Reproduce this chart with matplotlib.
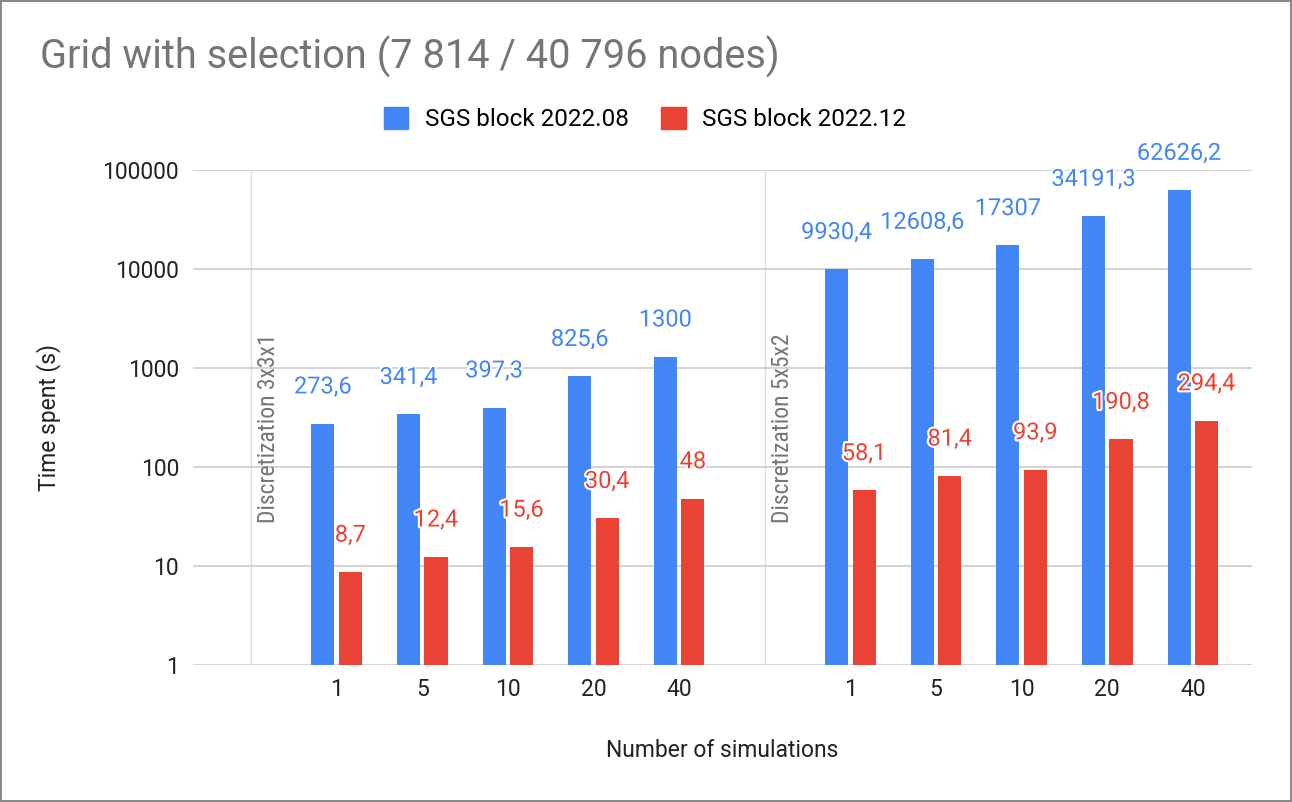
import matplotlib

matplotlib.use("Agg")
import matplotlib.pyplot as plt
import matplotlib.patheffects as pe
from matplotlib import font_manager
from matplotlib.patches import Patch
from matplotlib.transforms import blended_transform_factory

plt.rcParams["font.family"] = ["Roboto", "DejaVu Sans"]

# data
groups = ["Discretization 3x3x1", "Discretization 5x5x2"]
sims = ["1", "5", "10", "20", "40"]
series_names = ["SGS block 2022.08", "SGS block 2022.12"]
aug_3x3x1 = [273.6, 341.4, 397.3, 825.6, 1300]
dec_3x3x1 = [8.7, 12.4, 15.6, 30.4, 48]
aug_5x5x2 = [9930.4, 12608.6, 17307, 34191.3, 62626.2]
dec_5x5x2 = [58.1, 81.4, 93.9, 190.8, 294.4]

BLUE = "#4285F4"
RED = "#EA4335"
GRID = "#cccccc"
GRAY = "#757575"
INK = "#222222"

# group headers look condensed in the original; use a narrow face if there is one
names = {f.name for f in font_manager.fontManager.ttflist}
head_font, head_size = ["Roboto"], 14
for narrow in ["Roboto Condensed", "Liberation Sans Narrow"]:
    if narrow in names:
        head_font, head_size = [narrow], 17
        break

fig = plt.figure(figsize=(12.92, 8.02), dpi=100)
fig.patch.set_edgecolor("#8a8a8a")
fig.patch.set_linewidth(1.5)
ax = fig.add_axes([0.1494, 0.1708, 0.8196, 0.6172])

# one slot per group header, then five slots for the runs
ticks, labels = [], []
pos = 0
bw, gap = 0.27, 0.05
halo = [pe.withStroke(linewidth=3, foreground="white")]
tr = blended_transform_factory(ax.transData, ax.transAxes)
for gname, aug, dec in [(groups[0], aug_3x3x1, dec_3x3x1), (groups[1], aug_5x5x2, dec_5x5x2)]:
    ax.axvline(pos, color="#dddddd", lw=1, zorder=0)
    ax.text(pos + 0.21, 0.287, gname, rotation=90, transform=tr, ha="center", va="bottom",
            color=GRAY, fontsize=head_size, family=head_font)
    xs = [pos + 1 + i for i in range(len(sims))]
    xb = [x - (bw + gap) / 2 for x in xs]
    xr = [x + (bw + gap) / 2 for x in xs]
    ax.bar(xb, aug, width=bw, color=BLUE, zorder=2)
    ax.bar(xr, dec, width=bw, color=RED, zorder=2)
    for xx, vals, col in [(xb, aug, BLUE), (xr, dec, RED)]:
        for x, v in zip(xx, vals):
            ax.annotate(f"{v:g}".replace(".", ","), (x, v), xytext=(0, 26.5),
                        textcoords="offset points", ha="center", va="center", color=col,
                        fontsize=17, path_effects=halo, annotation_clip=False)
    ticks += xs
    labels += sims
    pos += len(sims) + 1

ax.set_yscale("log")
ax.set_ylim(1, 100000)
ax.set_xlim(-0.677, 11.69)
ax.set_yticks([1, 10, 100, 1000, 10000, 100000])
ax.set_yticklabels(["1", "10", "100", "1000", "10000", "100000"])
ax.minorticks_off()
ax.set_xticks(ticks)
ax.set_xticklabels(labels)
ax.tick_params(axis="both", length=0, labelsize=16.5, colors=INK)
ax.tick_params(axis="y", pad=10)
ax.tick_params(axis="x", pad=9.5)
ax.grid(axis="y", color=GRID, lw=1.2, zorder=0)
ax.set_axisbelow(True)
for s in ax.spines.values():
    s.set_visible(False)

ax.set_ylabel("Time spent (s)", fontsize=16.5, color=INK, labelpad=30)
ax.set_xlabel("Number of simulations", fontsize=16.5, color=INK, labelpad=27)

fig.text(40 / 1292, 1 - 57 / 802, "Grid with selection (7 814 / 40 796 nodes)", fontsize=28.6,
         color=GRAY, ha="left", va="center")

handles = [Patch(color=BLUE, label=series_names[0]), Patch(color=RED, label=series_names[1])]
fig.legend(handles=handles, loc="center", bbox_to_anchor=(645 / 1292, 1 - 119 / 802), ncol=2,
           frameon=False, fontsize=17.5, handlelength=1.0, handleheight=1.0, columnspacing=1.36,
           handletextpad=0.68)

fig.savefig("out.png", dpi=100, edgecolor=fig.get_edgecolor())
